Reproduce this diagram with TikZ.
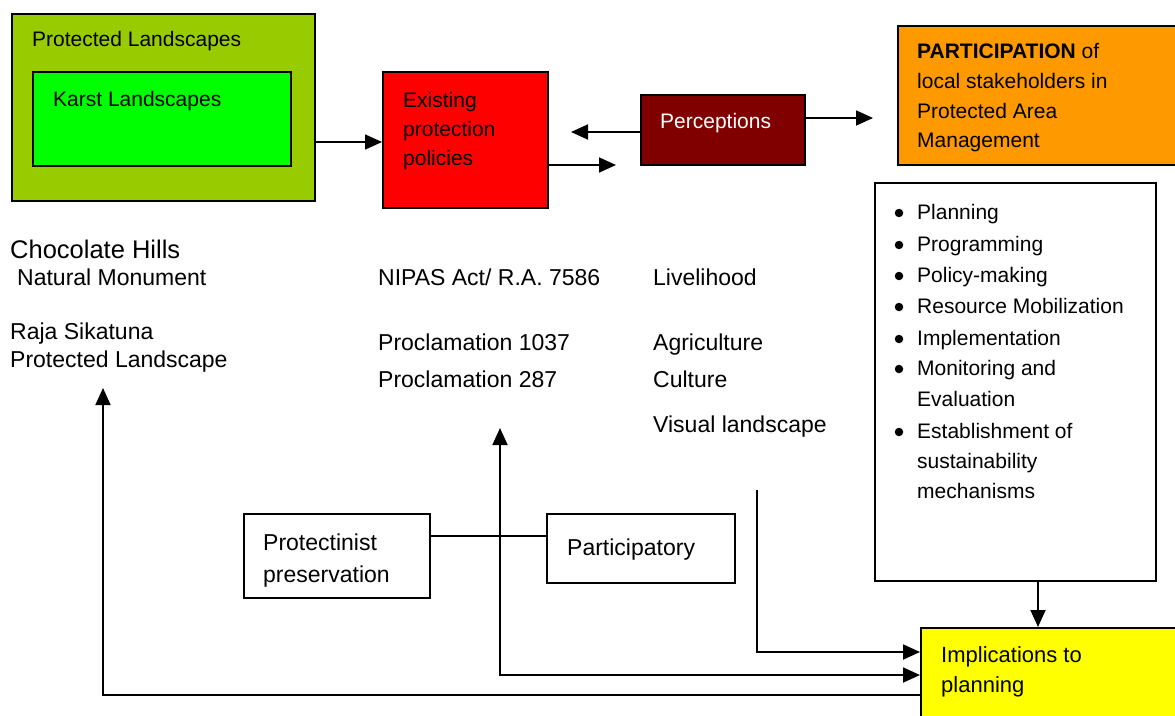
\documentclass[tikz,border=0pt]{standalone}
\usepackage{fontspec}
\setmainfont{Liberation Sans}
\usetikzlibrary{arrows.meta}
\definecolor{plgreen}{HTML}{99CC00}
\definecolor{karstgreen}{HTML}{00FF00}
\definecolor{policyred}{HTML}{FF0000}
\definecolor{percred}{HTML}{800000}
\definecolor{partorange}{HTML}{FF9900}
\definecolor{implyellow}{HTML}{FFFF00}
\tikzset{
  box/.style={draw=black, line width=2pt, anchor=north west, inner sep=0pt},
  lbl/.style={anchor=base west, inner sep=0pt, font=\fontsize{21}{25}\selectfont},
  lblm/.style={anchor=base west, inner sep=0pt, font=\fontsize{23}{27}\selectfont},
  dot/.style={circle, fill=black, inner sep=0pt, minimum size=8.5pt},
  tip/.tip={Triangle[length=17pt,width=15pt]},
  arr/.style={line width=1.8pt, -tip},
  link/.style={line width=1.8pt},
}
\begin{document}
\begin{tikzpicture}[x=1pt,y=-1pt]
\useasboundingbox (0,0) rectangle (1175,715);
\clip (0,0) rectangle (1175,715);
\fill[white] (0,0) rectangle (1175,715);

% boxes
\node[box, fill=plgreen, minimum width=303pt, minimum height=187pt] (protl) at (11,13) {};
\node[box, fill=karstgreen, minimum width=258pt, minimum height=94pt] (karst) at (32,71) {};
\node[box, fill=policyred, minimum width=165pt, minimum height=136pt] (exist) at (382,71) {};
\node[box, fill=percred, minimum width=164pt, minimum height=70pt] (percep) at (640,94) {};
\node[box, fill=partorange, minimum width=300pt, minimum height=139pt] (partic) at (897,25) {};
\node[box, fill=white, minimum width=281pt, minimum height=398pt] (list) at (874,182) {};
\node[box, fill=implyellow, minimum width=300pt, minimum height=120pt] (impl) at (920,627) {};
\node[box, fill=white, minimum width=186pt, minimum height=84pt] (protect) at (243,513) {};
\node[box, fill=white, minimum width=188pt, minimum height=69pt] (particip) at (546,513) {};

% box texts
\node[lbl] (tpl) at (32,46) {Protected Landscapes};
\node[lbl] (tka) at (53,106) {Karst Landscapes};
\node[lbl] (tex1) at (403,107) {Existing};
\node[lbl] (tex2) at (403,136) {protection};
\node[lbl] (tex3) at (403,165) {policies};
\node[lbl, text=white] (tpe) at (660,128) {Perceptions};
\node[lbl] (tpa1) at (917,58) {\textbf{PARTICIPATION} of};
\node[lbl] (tpa2) at (917,88) {local stakeholders in};
\node[lbl] (tpa3) at (917,118) {Protected Area};
\node[lbl] (tpa4) at (917,147) {Management};

% bullet list
\node[dot] (b1) at (899,213) {};
\node[lbl] (l1) at (917,219) {Planning};
\node[dot] (b2) at (899,245) {};
\node[lbl] (l2) at (917,251) {Programming};
\node[dot] (b3) at (899,276) {};
\node[lbl] (l3) at (917,282) {Policy-making};
\node[dot] (b4) at (899,307) {};
\node[lbl] (l4) at (917,313) {Resource Mobilization};
\node[dot] (b5) at (899,339) {};
\node[lbl] (l5) at (917,345) {Implementation};
\node[dot] (b6) at (899,369) {};
\node[lbl] (l6) at (917,375) {Monitoring and};
\node[lbl] (l7) at (917,406) {Evaluation};
\node[dot] (b7) at (899,432) {};
\node[lbl] (l8) at (917,438) {Establishment of};
\node[lbl] (l9) at (917,468) {sustainability};
\node[lbl] (l10) at (917,498) {mechanisms};

\node[lbl, font=\fontsize{22}{26}\selectfont] (tim1) at (941,662) {Implications to};
\node[lbl, font=\fontsize{22}{26}\selectfont] (tim2) at (941,692) {planning};
\node[lblm] (tpr1) at (263,550) {Protectinist};
\node[lblm] (tpr2) at (263,582) {preservation};
\node[lblm] (tpp) at (567,555) {Participatory};

% free texts
\node[lbl, font=\fontsize{25.5}{29}\selectfont] (ch1) at (10,258) {Chocolate Hills};
\node[lblm] (ch2) at (17,285) {Natural Monument};
\node[lblm] (rs1) at (10,339) {Raja Sikatuna};
\node[lblm] (rs2) at (10,367) {Protected Landscape};
\node[lblm] (nip) at (378,285) {NIPAS Act/ R.A. 7586};
\node[lblm] (p1037) at (378,350) {Proclamation 1037};
\node[lblm] (p287) at (378,387) {Proclamation 287};
\node[lblm] (liv) at (653,285) {Livelihood};
\node[lblm] (agr) at (653,350) {Agriculture};
\node[lblm] (cul) at (653,387) {Culture};
\node[lblm] (vis) at (653,432) {Visual landscape};

% free connector ends
\coordinate (e1) at (616,165);
\coordinate (e2) at (571,132);
\coordinate (e3) at (873,118);
\coordinate (e4) at (757,490);
\coordinate (e5) at (500,428);
\coordinate (e6) at (103,388);

% connectors
\draw[arr] (protl.east |- 0,142) -- (exist.west |- 0,142);
\draw[arr] (exist.east |- e1) -- (e1);
\draw[arr] (percep.west |- e2) -- (e2);
\draw[arr] (percep.east |- e3) -- (e3);
\draw[arr] (list.south -| 1038,0) -- (impl.north -| 1038,0);
\draw[link] (protect.east |- 0,536) -- (particip.west |- 0,536);
\draw[arr] (e4) |- (impl.west |- 0,652);
\draw[line width=1.8pt, tip-tip] (e5) |- (impl.west |- 0,675);
\draw[line width=1.8pt, tip-] (e6) |- (impl.west |- 0,695);
\end{tikzpicture}
\end{document}
